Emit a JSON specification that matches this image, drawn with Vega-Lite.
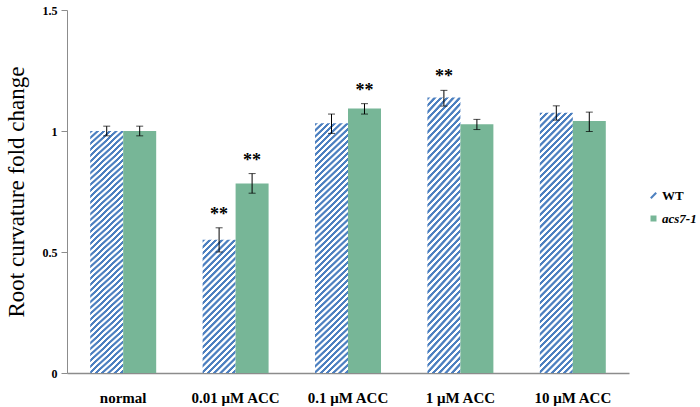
{
  "$schema": "https://vega.github.io/schema/vega-lite/v6.json",
  "autosize": {"type": "none"},
  "padding": {"left": 67, "top": 10, "right": 71, "bottom": 34},
  "width": 562,
  "height": 363,
  "background": "#ffffff",
  "params": [
    {"name": "stripes", "value": [
      {"offset":0,"color":"#4d80c0"},{"offset":0.008,"color":"#4d80c0"},{"offset":0.01,"color":"#fff"},{"offset":0.018,"color":"#fff"},
      {"offset":0.02,"color":"#4d80c0"},{"offset":0.028,"color":"#4d80c0"},{"offset":0.03,"color":"#fff"},{"offset":0.038,"color":"#fff"},
      {"offset":0.04,"color":"#4d80c0"},{"offset":0.048,"color":"#4d80c0"},{"offset":0.05,"color":"#fff"},{"offset":0.058,"color":"#fff"},
      {"offset":0.06,"color":"#4d80c0"},{"offset":0.068,"color":"#4d80c0"},{"offset":0.07,"color":"#fff"},{"offset":0.078,"color":"#fff"},
      {"offset":0.08,"color":"#4d80c0"},{"offset":0.088,"color":"#4d80c0"},{"offset":0.09,"color":"#fff"},{"offset":0.098,"color":"#fff"},
      {"offset":0.1,"color":"#4d80c0"},{"offset":0.108,"color":"#4d80c0"},{"offset":0.11,"color":"#fff"},{"offset":0.118,"color":"#fff"},
      {"offset":0.12,"color":"#4d80c0"},{"offset":0.128,"color":"#4d80c0"},{"offset":0.13,"color":"#fff"},{"offset":0.138,"color":"#fff"},
      {"offset":0.14,"color":"#4d80c0"},{"offset":0.148,"color":"#4d80c0"},{"offset":0.15,"color":"#fff"},{"offset":0.158,"color":"#fff"},
      {"offset":0.16,"color":"#4d80c0"},{"offset":0.168,"color":"#4d80c0"},{"offset":0.17,"color":"#fff"},{"offset":0.178,"color":"#fff"},
      {"offset":0.18,"color":"#4d80c0"},{"offset":0.188,"color":"#4d80c0"},{"offset":0.19,"color":"#fff"},{"offset":0.198,"color":"#fff"},
      {"offset":0.2,"color":"#4d80c0"},{"offset":0.208,"color":"#4d80c0"},{"offset":0.21,"color":"#fff"},{"offset":0.218,"color":"#fff"},
      {"offset":0.22,"color":"#4d80c0"},{"offset":0.228,"color":"#4d80c0"},{"offset":0.23,"color":"#fff"},{"offset":0.238,"color":"#fff"},
      {"offset":0.24,"color":"#4d80c0"},{"offset":0.248,"color":"#4d80c0"},{"offset":0.25,"color":"#fff"},{"offset":0.258,"color":"#fff"},
      {"offset":0.26,"color":"#4d80c0"},{"offset":0.268,"color":"#4d80c0"},{"offset":0.27,"color":"#fff"},{"offset":0.278,"color":"#fff"},
      {"offset":0.28,"color":"#4d80c0"},{"offset":0.288,"color":"#4d80c0"},{"offset":0.29,"color":"#fff"},{"offset":0.298,"color":"#fff"},
      {"offset":0.3,"color":"#4d80c0"},{"offset":0.308,"color":"#4d80c0"},{"offset":0.31,"color":"#fff"},{"offset":0.318,"color":"#fff"},
      {"offset":0.32,"color":"#4d80c0"},{"offset":0.328,"color":"#4d80c0"},{"offset":0.33,"color":"#fff"},{"offset":0.338,"color":"#fff"},
      {"offset":0.34,"color":"#4d80c0"},{"offset":0.348,"color":"#4d80c0"},{"offset":0.35,"color":"#fff"},{"offset":0.358,"color":"#fff"},
      {"offset":0.36,"color":"#4d80c0"},{"offset":0.368,"color":"#4d80c0"},{"offset":0.37,"color":"#fff"},{"offset":0.378,"color":"#fff"},
      {"offset":0.38,"color":"#4d80c0"},{"offset":0.388,"color":"#4d80c0"},{"offset":0.39,"color":"#fff"},{"offset":0.398,"color":"#fff"},
      {"offset":0.4,"color":"#4d80c0"},{"offset":0.408,"color":"#4d80c0"},{"offset":0.41,"color":"#fff"},{"offset":0.418,"color":"#fff"},
      {"offset":0.42,"color":"#4d80c0"},{"offset":0.428,"color":"#4d80c0"},{"offset":0.43,"color":"#fff"},{"offset":0.438,"color":"#fff"},
      {"offset":0.44,"color":"#4d80c0"},{"offset":0.448,"color":"#4d80c0"},{"offset":0.45,"color":"#fff"},{"offset":0.458,"color":"#fff"},
      {"offset":0.46,"color":"#4d80c0"},{"offset":0.468,"color":"#4d80c0"},{"offset":0.47,"color":"#fff"},{"offset":0.478,"color":"#fff"},
      {"offset":0.48,"color":"#4d80c0"},{"offset":0.488,"color":"#4d80c0"},{"offset":0.49,"color":"#fff"},{"offset":0.498,"color":"#fff"},
      {"offset":0.5,"color":"#4d80c0"},{"offset":0.508,"color":"#4d80c0"},{"offset":0.51,"color":"#fff"},{"offset":0.518,"color":"#fff"},
      {"offset":0.52,"color":"#4d80c0"},{"offset":0.528,"color":"#4d80c0"},{"offset":0.53,"color":"#fff"},{"offset":0.538,"color":"#fff"},
      {"offset":0.54,"color":"#4d80c0"},{"offset":0.548,"color":"#4d80c0"},{"offset":0.55,"color":"#fff"},{"offset":0.558,"color":"#fff"},
      {"offset":0.56,"color":"#4d80c0"},{"offset":0.568,"color":"#4d80c0"},{"offset":0.57,"color":"#fff"},{"offset":0.578,"color":"#fff"},
      {"offset":0.58,"color":"#4d80c0"},{"offset":0.588,"color":"#4d80c0"},{"offset":0.59,"color":"#fff"},{"offset":0.598,"color":"#fff"},
      {"offset":0.6,"color":"#4d80c0"},{"offset":0.608,"color":"#4d80c0"},{"offset":0.61,"color":"#fff"},{"offset":0.618,"color":"#fff"},
      {"offset":0.62,"color":"#4d80c0"},{"offset":0.628,"color":"#4d80c0"},{"offset":0.63,"color":"#fff"},{"offset":0.638,"color":"#fff"},
      {"offset":0.64,"color":"#4d80c0"},{"offset":0.648,"color":"#4d80c0"},{"offset":0.65,"color":"#fff"},{"offset":0.658,"color":"#fff"},
      {"offset":0.66,"color":"#4d80c0"},{"offset":0.668,"color":"#4d80c0"},{"offset":0.67,"color":"#fff"},{"offset":0.678,"color":"#fff"},
      {"offset":0.68,"color":"#4d80c0"},{"offset":0.688,"color":"#4d80c0"},{"offset":0.69,"color":"#fff"},{"offset":0.698,"color":"#fff"},
      {"offset":0.7,"color":"#4d80c0"},{"offset":0.708,"color":"#4d80c0"},{"offset":0.71,"color":"#fff"},{"offset":0.718,"color":"#fff"},
      {"offset":0.72,"color":"#4d80c0"},{"offset":0.728,"color":"#4d80c0"},{"offset":0.73,"color":"#fff"},{"offset":0.738,"color":"#fff"},
      {"offset":0.74,"color":"#4d80c0"},{"offset":0.748,"color":"#4d80c0"},{"offset":0.75,"color":"#fff"},{"offset":0.758,"color":"#fff"},
      {"offset":0.76,"color":"#4d80c0"},{"offset":0.768,"color":"#4d80c0"},{"offset":0.77,"color":"#fff"},{"offset":0.778,"color":"#fff"},
      {"offset":0.78,"color":"#4d80c0"},{"offset":0.788,"color":"#4d80c0"},{"offset":0.79,"color":"#fff"},{"offset":0.798,"color":"#fff"},
      {"offset":0.8,"color":"#4d80c0"},{"offset":0.808,"color":"#4d80c0"},{"offset":0.81,"color":"#fff"},{"offset":0.818,"color":"#fff"},
      {"offset":0.82,"color":"#4d80c0"},{"offset":0.828,"color":"#4d80c0"},{"offset":0.83,"color":"#fff"},{"offset":0.838,"color":"#fff"},
      {"offset":0.84,"color":"#4d80c0"},{"offset":0.848,"color":"#4d80c0"},{"offset":0.85,"color":"#fff"},{"offset":0.858,"color":"#fff"},
      {"offset":0.86,"color":"#4d80c0"},{"offset":0.868,"color":"#4d80c0"},{"offset":0.87,"color":"#fff"},{"offset":0.878,"color":"#fff"},
      {"offset":0.88,"color":"#4d80c0"},{"offset":0.888,"color":"#4d80c0"},{"offset":0.89,"color":"#fff"},{"offset":0.898,"color":"#fff"},
      {"offset":0.9,"color":"#4d80c0"},{"offset":0.908,"color":"#4d80c0"},{"offset":0.91,"color":"#fff"},{"offset":0.918,"color":"#fff"},
      {"offset":0.92,"color":"#4d80c0"},{"offset":0.928,"color":"#4d80c0"},{"offset":0.93,"color":"#fff"},{"offset":0.938,"color":"#fff"},
      {"offset":0.94,"color":"#4d80c0"},{"offset":0.948,"color":"#4d80c0"},{"offset":0.95,"color":"#fff"},{"offset":0.958,"color":"#fff"},
      {"offset":0.96,"color":"#4d80c0"},{"offset":0.968,"color":"#4d80c0"},{"offset":0.97,"color":"#fff"},{"offset":0.978,"color":"#fff"},
      {"offset":0.98,"color":"#4d80c0"},{"offset":0.988,"color":"#4d80c0"},{"offset":0.99,"color":"#fff"},{"offset":0.998,"color":"#fff"},
      {"offset":1,"color":"#4d80c0"}
    ]}
  ],
  "data": {"values": [
    {"dose": "normal", "genotype": "WT", "mean": 1.0, "lo": 0.98, "hi": 1.02, "sig": ""},
    {"dose": "normal", "genotype": "acs7-1", "mean": 1.0, "lo": 0.98, "hi": 1.02, "sig": ""},
    {"dose": "0.01 μM ACC", "genotype": "WT", "mean": 0.551, "lo": 0.5, "hi": 0.6, "sig": "**"},
    {"dose": "0.01 μM ACC", "genotype": "acs7-1", "mean": 0.783, "lo": 0.743, "hi": 0.824, "sig": "**"},
    {"dose": "0.1 μM ACC", "genotype": "WT", "mean": 1.032, "lo": 0.99, "hi": 1.07, "sig": ""},
    {"dose": "0.1 μM ACC", "genotype": "acs7-1", "mean": 1.093, "lo": 1.07, "hi": 1.113, "sig": "**"},
    {"dose": "1 μM ACC", "genotype": "WT", "mean": 1.138, "lo": 1.103, "hi": 1.168, "sig": "**"},
    {"dose": "1 μM ACC", "genotype": "acs7-1", "mean": 1.028, "lo": 1.006, "hi": 1.048, "sig": ""},
    {"dose": "10 μM ACC", "genotype": "WT", "mean": 1.075, "lo": 1.045, "hi": 1.104, "sig": ""},
    {"dose": "10 μM ACC", "genotype": "acs7-1", "mean": 1.041, "lo": 0.998, "hi": 1.078, "sig": ""}
  ]},
  "encoding": {
    "x": {
      "field": "dose", "type": "nominal", "sort": null,
      "scale": {"paddingInner": 0.413, "paddingOuter": 0.2065},
      "axis": {"title": null, "labelAngle": 0, "ticks": false, "labelPadding": 17, "labelFont": "Liberation Serif", "labelFontSize": 15, "labelFontWeight": "bold", "labelColor": "#000", "domainColor": "#8c8c8c", "domainWidth": 1.5}
    },
    "xOffset": {"field": "genotype", "type": "nominal", "sort": ["WT", "acs7-1"], "scale": {"paddingInner": 0, "paddingOuter": 0}}
  },
  "layer": [
    {
      "mark": {"type": "bar"},
      "encoding": {
        "y": {
          "field": "mean", "type": "quantitative",
          "scale": {"domain": [0, 1.5], "nice": false, "zero": true},
          "axis": {"title": "Root curvature fold change", "values": [0, 0.5, 1, 1.5], "labelExpr": "'' + datum.value", "grid": false, "titleFont": "Liberation Serif", "titleFontSize": 23, "titleFontWeight": "normal", "titleColor": "#000", "titlePadding": 14, "labelFont": "Liberation Serif", "labelFontSize": 12, "labelFontWeight": "bold", "labelColor": "#000", "labelPadding": 4, "domainColor": "#8c8c8c", "tickColor": "#8c8c8c", "tickSize": 6}
        },
        "fill": {
          "condition": [
            {"test": "datum.genotype === 'WT' && datum.mean < 0.8", "value": {"expr": "{gradient: 'linear', x1: 0, y1: 0, x2: 0.5469, y2: 2.2089, stops: stripes}"}},
            {"test": "datum.genotype === 'WT'", "value": {"expr": "{gradient: 'linear', x1: 0, y1: 0, x2: 0.1524, y2: 1.1917, stops: stripes}"}}
          ],
          "value": "#77b697"
        }
      }
    },
    {
      "mark": {"type": "rule", "color": "#000", "strokeWidth": 1},
      "encoding": {
        "y": {"field": "lo", "type": "quantitative"},
        "y2": {"field": "hi"}
      }
    },
    {
      "mark": {"type": "tick", "color": "#000", "size": 7, "thickness": 1},
      "encoding": {"y": {"field": "lo", "type": "quantitative"}}
    },
    {
      "mark": {"type": "tick", "color": "#000", "size": 7, "thickness": 1},
      "encoding": {"y": {"field": "hi", "type": "quantitative"}}
    },
    {
      "transform": [{"filter": "datum.sig !== ''"}],
      "mark": {"type": "text", "font": "Liberation Serif", "fontSize": 18, "fontWeight": "bold", "color": "#000", "baseline": "alphabetic", "dy": -8},
      "encoding": {
        "y": {"field": "hi", "type": "quantitative"},
        "text": {"field": "sig"}
      }
    },
    {
      "mark": {"type": "point", "filled": true, "opacity": 0},
      "encoding": {
        "y": {"field": "mean", "type": "quantitative"},
        "color": {
          "field": "genotype", "type": "nominal",
          "scale": {"domain": ["WT", "acs7-1"], "range": ["#4d80c0", "#77b697"]},
          "legend": {
            "title": null, "orient": "none", "legendX": 580, "legendY": 179,
            "symbolType": "square", "symbolSize": 36, "symbolOpacity": 1,
            "labelFont": "Liberation Serif", "labelFontSize": 13, "labelFontWeight": "bold", "labelColor": "#000",
            "rowPadding": 9, "labelOffset": 2, "padding": 0,
            "encode": {
              "labels": {"update": {"fontStyle": {"signal": "datum.value === 'acs7-1' ? 'italic' : 'normal'"}}},
              "symbols": {"update": {
                "shape": {"signal": "datum.value === 'WT' ? 'M-0.9,0.9L0.9,-0.9' : 'square'"},
                "stroke": {"signal": "datum.value === 'WT' ? '#4d80c0' : null"},
                "strokeWidth": {"value": 2},
                "opacity": {"value": 1}
              }}
            }
          }
        }
      }
    }
  ],
  "config": {"view": {"stroke": null}}
}
